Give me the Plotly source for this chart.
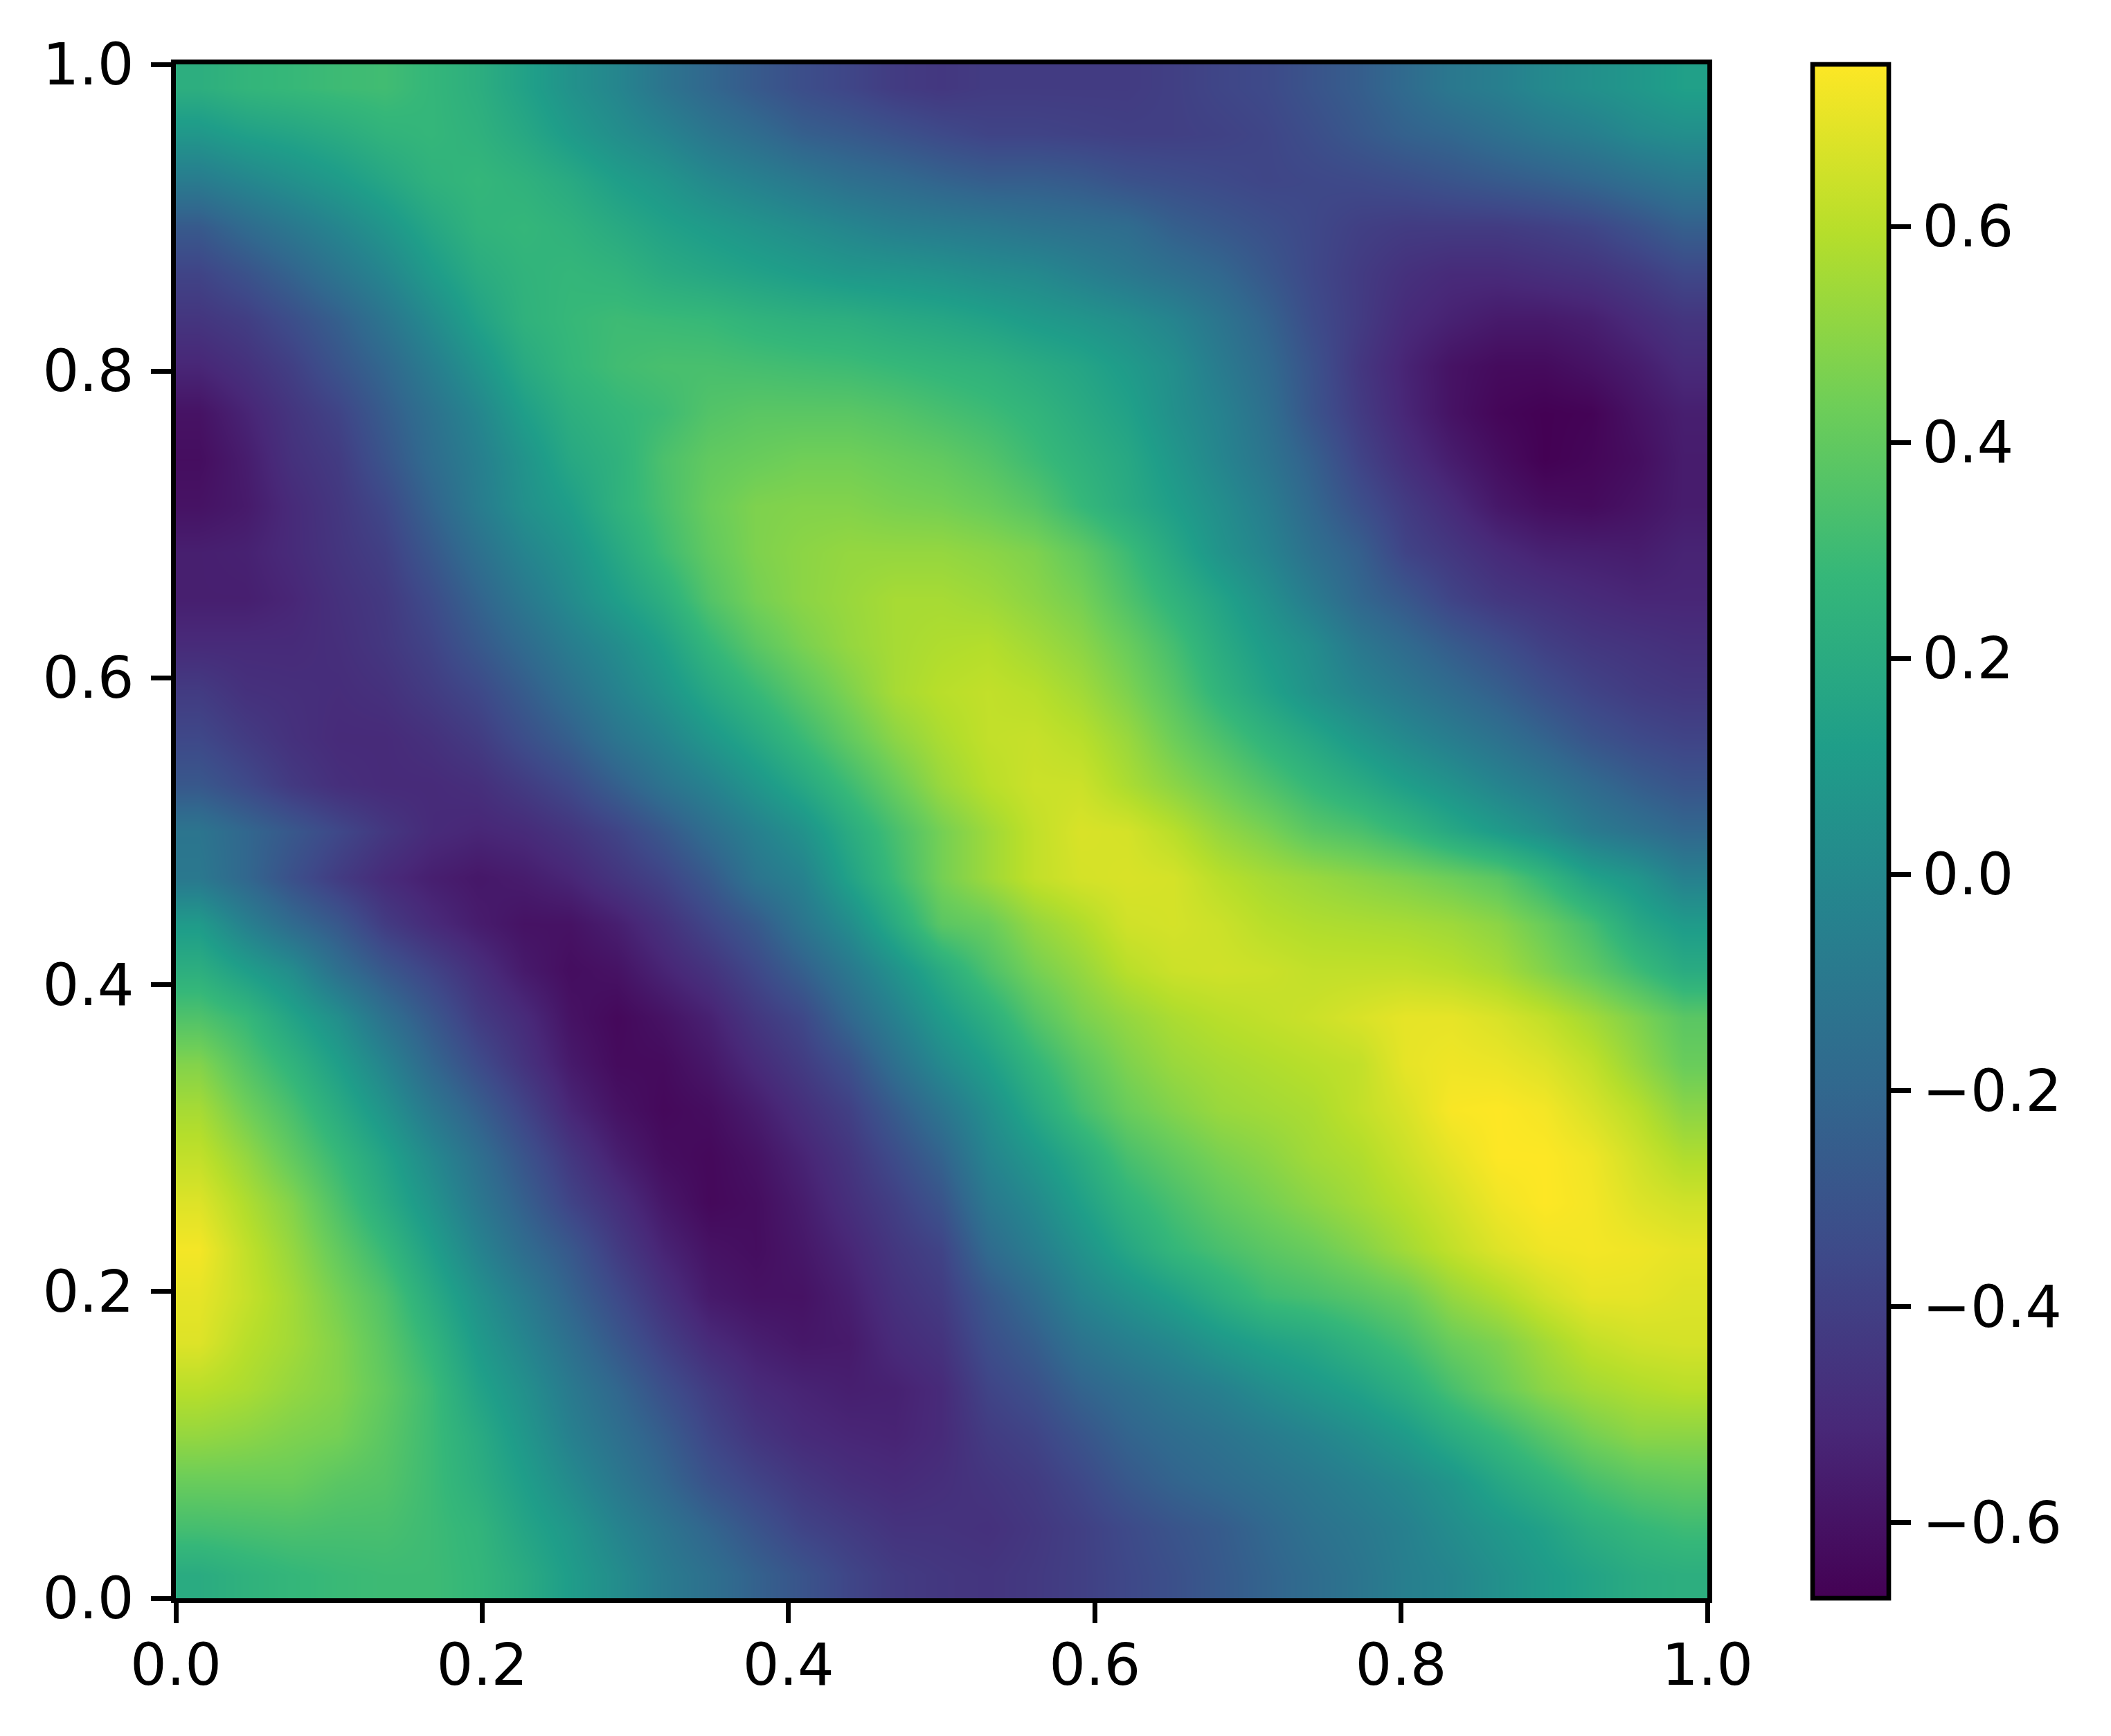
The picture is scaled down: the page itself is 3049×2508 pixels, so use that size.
import plotly.graph_objects as go

# Values at a 33x33 sampling of its finer colour grid
# (every second cell), in hundredths, top row first. The fine 65-cell block
# pattern is therefore not reproduced cell by cell; Plotly's zsmooth renders it.
z_top = [
 [22,26,28,30,31,27,22,14,5,-2,-12,-20,-27,-33,-37,-42,-44,-42,-42,-42,-42,-40,-37,-35,-30,-25,-18,-10,-6,0,4,8,13],
 [8,13,16,20,25,27,24,18,10,3,-3,-11,-17,-24,-27,-31,-35,-38,-38,-39,-40,-40,-39,-37,-33,-28,-23,-20,-15,-10,-6,0,3],
 [-8,-2,4,10,17,24,27,24,19,12,7,0,-5,-10,-15,-18,-22,-25,-25,-27,-31,-33,-35,-37,-36,-35,-33,-30,-27,-24,-20,-15,-10],
 [-27,-18,-10,-2,7,17,25,27,24,19,14,10,6,2,-2,-6,-8,-10,-13,-15,-17,-24,-28,-32,-36,-40,-42,-42,-42,-40,-37,-31,-24],
 [-38,-31,-22,-12,-2,10,20,25,27,25,20,17,14,11,8,7,5,2,0,-5,-10,-15,-20,-28,-36,-42,-47,-50,-50,-48,-46,-42,-36],
 [-45,-41,-33,-24,-12,1,14,24,28,30,29,28,25,23,22,19,17,14,10,7,3,-3,-12,-22,-34,-42,-50,-54,-57,-57,-55,-50,-45],
 [-52,-47,-40,-30,-20,-7,6,19,27,31,33,33,32,31,30,28,26,24,20,16,10,3,-8,-18,-31,-44,-53,-60,-63,-63,-60,-56,-50],
 [-60,-53,-45,-38,-26,-14,-2,12,22,27,30,36,38,38,38,36,33,30,26,20,14,4,-4,-15,-30,-42,-52,-60,-65,-67,-66,-60,-55],
 [-62,-56,-47,-42,-30,-17,-6,6,18,24,34,40,42,44,44,42,40,36,30,24,18,8,-2,-12,-24,-38,-48,-56,-62,-67,-65,-62,-56],
 [-60,-57,-50,-44,-36,-22,-8,4,12,24,33,42,47,48,48,46,45,42,37,28,20,12,3,-7,-20,-32,-42,-50,-58,-62,-63,-60,-56],
 [-55,-54,-50,-45,-40,-28,-15,-3,6,18,30,40,47,50,52,52,52,50,47,40,30,18,6,-3,-15,-24,-38,-44,-50,-54,-55,-56,-53],
 [-55,-55,-52,-47,-43,-34,-22,-10,1,12,22,36,45,50,53,56,56,54,50,45,35,25,15,4,-8,-20,-28,-38,-44,-47,-50,-52,-52],
 [-50,-50,-50,-48,-44,-38,-28,-18,-7,2,13,27,38,46,52,56,58,59,55,50,42,32,20,10,2,-10,-18,-26,-33,-40,-44,-46,-48],
 [-42,-47,-48,-49,-47,-42,-36,-26,-15,-4,6,18,28,38,47,56,60,62,60,55,47,37,25,15,5,-3,-10,-17,-24,-32,-38,-42,-44],
 [-36,-42,-47,-50,-50,-47,-42,-33,-24,-12,-3,8,18,29,40,50,57,62,63,60,53,43,34,25,17,8,0,-7,-14,-22,-30,-35,-38],
 [-28,-35,-43,-48,-50,-50,-48,-42,-35,-24,-13,-4,7,18,30,42,53,60,64,64,57,50,43,35,27,20,12,5,-3,-10,-18,-25,-30],
 [-12,-20,-28,-36,-44,-50,-52,-50,-45,-38,-28,-16,-5,5,20,33,45,54,62,67,66,60,52,46,38,34,27,18,10,2,-8,-14,-20],
]
z_bottom = [
 [-10,-20,-32,-42,-50,-55,-58,-56,-52,-45,-38,-27,-12,-4,14,30,45,54,62,66,67,66,60,56,53,50,47,43,38,27,14,7,-5],
 [10,-5,-18,-28,-42,-50,-56,-60,-60,-55,-47,-37,-27,-12,2,20,38,42,52,58,65,66,64,60,58,57,56,54,50,42,32,18,10],
 [22,12,2,-15,-28,-38,-48,-57,-62,-60,-53,-46,-36,-24,-10,5,20,34,45,52,60,64,65,64,62,62,62,60,56,48,40,30,20],
 [35,28,15,3,-14,-28,-42,-50,-60,-64,-60,-54,-44,-36,-20,-5,10,22,36,46,52,57,60,62,64,67,70,70,67,62,55,47,38],
 [48,36,25,12,-3,-20,-34,-46,-57,-63,-63,-58,-50,-42,-32,-15,0,12,26,38,47,53,56,58,60,62,70,72,71,68,62,52,42],
 [56,44,33,20,6,-10,-24,-38,-52,-60,-64,-62,-56,-48,-40,-26,-12,3,18,32,42,48,53,55,57,62,67,74,75,73,67,60,50],
 [62,52,40,28,15,0,-15,-30,-44,-55,-62,-64,-60,-53,-45,-34,-22,-3,8,20,33,40,46,50,55,58,64,70,75,75,72,65,58],
 [68,58,48,34,20,6,-10,-24,-38,-48,-58,-64,-62,-56,-48,-40,-30,-10,0,13,25,33,40,45,50,55,60,66,72,75,73,68,65],
 [73,62,52,40,28,13,-3,-17,-28,-42,-53,-60,-62,-58,-52,-44,-38,-18,-7,5,17,27,33,38,42,48,55,62,68,72,73,72,70],
 [70,63,55,45,35,20,5,-8,-22,-35,-47,-57,-60,-60,-55,-47,-42,-28,-17,-3,5,13,22,30,33,37,42,52,58,65,70,70,68],
 [68,60,55,48,38,26,10,-2,-15,-28,-40,-50,-55,-58,-57,-50,-46,-33,-25,-13,-6,0,8,14,18,25,32,42,47,55,62,65,66],
 [60,57,52,48,40,30,15,4,-9,-20,-32,-42,-50,-53,-55,-54,-50,-38,-32,-22,-16,-10,-5,2,8,14,22,33,42,50,55,58,60],
 [52,50,47,45,38,30,20,8,-5,-15,-25,-37,-45,-50,-52,-53,-50,-42,-38,-30,-22,-17,-13,-8,-3,3,10,20,28,37,45,50,50],
 [42,42,42,38,36,30,22,12,1,-10,-20,-31,-38,-44,-48,-50,-48,-45,-42,-36,-28,-22,-18,-14,-10,-5,0,7,17,25,33,38,40],
 [32,33,34,33,33,30,26,16,8,-3,-12,-21,-30,-38,-42,-46,-46,-47,-44,-40,-35,-30,-26,-20,-14,-10,-5,2,8,14,22,27,30],
 [20,24,27,29,30,30,27,20,11,2,-8,-15,-23,-30,-37,-42,-44,-45,-43,-40,-36,-32,-27,-22,-17,-12,-6,-2,4,10,15,20,22],
]
x_ticks = [0.0, 0.2, 0.4, 0.6, 0.8, 1.0]
y_ticks = [0.0, 0.2, 0.4, 0.6, 0.8, 1.0]
bar_ticks = [-0.6, -0.4, -0.2, 0.0, 0.2, 0.4, 0.6]
z_min = -0.67
z_max = 0.75

rows = (z_top + z_bottom)[::-1]
assert len(rows) == 33 and all(len(r) == 33 for r in rows)
z = [[v / 100 for v in r] for r in rows]
n = len(z)
centres = [(i + 0.5) / n for i in range(n)]

FONT = dict(family="DejaVu Sans", size=83, color="black")
LW = 6.67

fig = go.Figure(go.Heatmap(
    z=z, x=centres, y=centres, zmin=z_min, zmax=z_max,
    colorscale="Viridis", zsmooth="best",
    colorbar=dict(
        x=1.0687, xanchor="left", xpad=0, y=0, yanchor="bottom", ypad=0,
        len=1, lenmode="fraction", thickness=110, thicknessmode="pixels",
        outlinewidth=LW, outlinecolor="black",
        tickvals=bar_ticks, tickformat=".1f", ticks="outside",
        ticklen=29, tickwidth=LW, tickcolor="black", tickfont=FONT,
    ),
))
axis = dict(
    range=[0, 1], showgrid=False, zeroline=False, showline=True, mirror=True,
    linewidth=LW, linecolor="black", ticks="outside", ticklen=29, tickwidth=LW,
    tickcolor="black", tickfont=FONT, tickformat=".1f", constrain="domain",
)
fig.update_xaxes(tickvals=x_ticks, ticklabelstandoff=-10, **axis)
fig.update_yaxes(tickvals=y_ticks, ticklabelstandoff=8, **axis)
fig.update_layout(
    width=3049, height=2508, autosize=False,
    margin=dict(l=246, r=591, t=85, b=207, pad=0),
    paper_bgcolor="white", plot_bgcolor="white",
)
fig.write_html("out.html")
